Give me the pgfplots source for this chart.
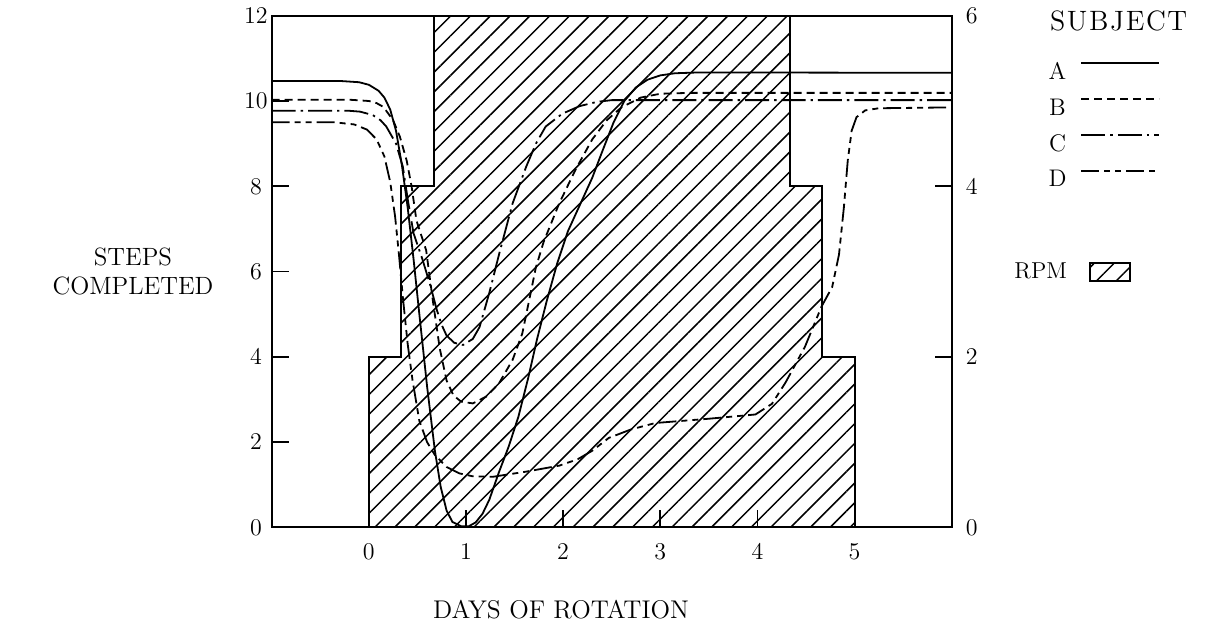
\documentclass[border=0pt]{standalone}
\usepackage{pgfplots}
\pgfplotsset{compat=1.18}
\usetikzlibrary{patterns.meta}
\begin{document}
\begin{tikzpicture}
\pgfplotsset{
  common/.style={
    scale only axis, width=340pt, height=255.9pt,
    xmin=-1, xmax=6,
    tick align=inside, major tick length=8.5pt,
    tick style={line width=0.9pt, black},
    tick label style={font=\fontsize{11.5}{13}\selectfont},
    axis line style={line width=1pt},
  },
}
% RPM (right axis)
\begin{axis}[common,
  ymin=0, ymax=6,
  axis x line=none, axis y line*=right,
  ytick={0,2,4,6},
  yticklabel style={anchor=center, xshift=10pt},
  legend plot pos=right,
  legend style={draw=none, fill=none, at={(axis description cs:1.077,0.499)}, anchor=west,
    font=\fontsize{11.5}{14}\selectfont, column sep=9pt},
  legend image code/.code={\draw[#1, line width=0.8pt] (0pt,-4.5pt) rectangle (20pt,4.5pt);},
]
\addplot[draw=black, line width=1pt, pattern={Lines[angle=45,distance=7pt,line width=0.75pt]}]
  coordinates {(0,0) (0,2) (0.333,2) (0.333,4) (0.667,4) (0.667,6) (4.333,6) (4.333,4) (4.667,4) (4.667,2) (5,2) (5,0)} \closedcycle;
\addlegendentry{RPM}
\end{axis}
% Steps completed (left axis)
\begin{axis}[common,
  ymin=0, ymax=12,
  xtick={0,1,2,3,4,5}, ytick={0,2,4,6,8,10,12},
  xtick pos=bottom, ytick pos=left,
  yticklabel style={anchor=center, xshift=-7.85pt},
  xticklabel style={anchor=center, yshift=-12.25pt},
  every axis x label/.style={at={(axis description cs:0.4254,-0.1612)}, anchor=center, font=\fontsize{12.8}{14}\selectfont},
  every axis y label/.style={at={(axis description cs:-0.204,0.4995)}, anchor=center, align=center, font=\fontsize{12.5}{14.5}\selectfont},
  xlabel={DAYS OF ROTATION},
  ylabel={STEPS\\COMPLETED},
  legend plot pos=right,
  legend style={draw=none, fill=none, at={(axis description cs:1.133,0.9174)}, anchor=north west,
    font=\fontsize{12}{14}\selectfont, column sep=7pt, row sep=9.5pt,
    nodes={inner sep=0pt, text height=8pt, text depth=0pt}},
  legend image code/.code={\draw[#1] (0pt,4pt) -- (39pt,4pt);},
]
\addplot[black, line width=0.9pt] coordinates {
(-1,10.47) (-0.3,10.47) (-0.1,10.44) (0.0,10.38) (0.1,10.24) (0.16,10.08) (0.22,9.8) (0.28,9.3) (0.34,8.5) (0.4,7.5) (0.46,6.3) (0.52,5.0) (0.6,3.3) (0.68,1.8) (0.74,0.95) (0.8,0.4) (0.86,0.13) (0.95,0.03) (1.03,0.03) (1.1,0.12) (1.17,0.32) (1.24,0.65) (1.34,1.3) (1.44,1.9) (1.54,2.6) (1.64,3.5) (1.73,4.4) (1.83,5.3) (1.94,6.2) (2.05,6.95) (2.18,7.6) (2.3,8.2) (2.4,8.8) (2.52,9.5) (2.63,10.0) (2.75,10.32) (2.87,10.5) (3.0,10.6) (3.15,10.65) (3.4,10.67) (6,10.66)
};
\addlegendentry{A}
\addplot[black, line width=0.9pt, dash pattern=on 4pt off 2.5pt] coordinates {
(-1,10.03) (-0.2,10.03) (0.0,10.0) (0.08,9.95) (0.15,9.86) (0.25,9.55) (0.32,9.16) (0.39,8.6) (0.44,8.0) (0.49,7.2) (0.59,6.5) (0.66,5.3) (0.73,4.2) (0.8,3.45) (0.87,3.1) (0.95,2.95) (1.07,2.91) (1.21,3.07) (1.34,3.38) (1.48,3.93) (1.58,4.55) (1.72,6.1) (1.8,6.7) (1.96,7.6) (2.13,8.4) (2.3,9.1) (2.45,9.55) (2.6,9.85) (2.8,10.08) (3.0,10.17) (3.3,10.19) (6,10.19)
};
\addlegendentry{B}
\addplot[black, line width=0.9pt, dash pattern=on 12pt off 2.5pt on 1.2pt off 2.5pt] coordinates {
(-1,9.77) (-0.2,9.77) (-0.09,9.75) (0.04,9.67) (0.12,9.55) (0.18,9.4) (0.28,9.0) (0.35,8.46) (0.4,7.7) (0.46,6.9) (0.55,6.3) (0.63,5.7) (0.7,5.1) (0.75,4.75) (0.8,4.5) (0.88,4.33) (0.97,4.28) (1.07,4.42) (1.14,4.7) (1.24,5.5) (1.34,6.4) (1.48,7.6) (1.62,8.46) (1.72,9.0) (1.82,9.4) (1.99,9.7) (2.17,9.88) (2.35,9.98) (2.5,10.02) (6,10.02)
};
\addlegendentry{C}
\addplot[black, line width=0.9pt, dash pattern=on 9pt off 2.5pt on 3pt off 2.5pt on 3pt off 2.5pt] coordinates {
(-1,9.5) (-0.35,9.5) (-0.15,9.45) (-0.02,9.33) (0.08,9.1) (0.16,8.7) (0.22,8.1) (0.27,7.3) (0.31,6.4) (0.35,5.4) (0.4,4.3) (0.45,3.45) (0.52,2.5) (0.6,2.0) (0.68,1.7) (0.8,1.42) (0.93,1.27) (1.07,1.2) (1.28,1.19) (1.62,1.31) (1.96,1.45) (2.15,1.6) (2.3,1.8) (2.47,2.1) (2.7,2.3) (2.95,2.45) (3.5,2.55) (3.98,2.65) (4.15,2.9) (4.29,3.4) (4.49,4.24) (4.66,5.18) (4.77,5.64) (4.84,6.4) (4.89,7.5) (4.93,8.6) (4.97,9.3) (5.02,9.62) (5.11,9.78) (5.25,9.83) (6,9.85)
};
\addlegendentry{D}
\end{axis}
\node[anchor=west, font=\fontsize{14}{16}\selectfont, inner sep=0pt] at ([shift={(389pt,253.25pt)}]current axis.south west) {S\kern0.8pt U\kern0.8pt B\kern0.8pt J\kern0.8pt E\kern0.8pt C\kern0.8pt T};
\pgfresetboundingbox
\path[use as bounding box] ([shift={(-135.85pt,-48.75pt)}]current axis.south west) rectangle ++(610.5pt,312.5pt);
\end{tikzpicture}
\end{document}
